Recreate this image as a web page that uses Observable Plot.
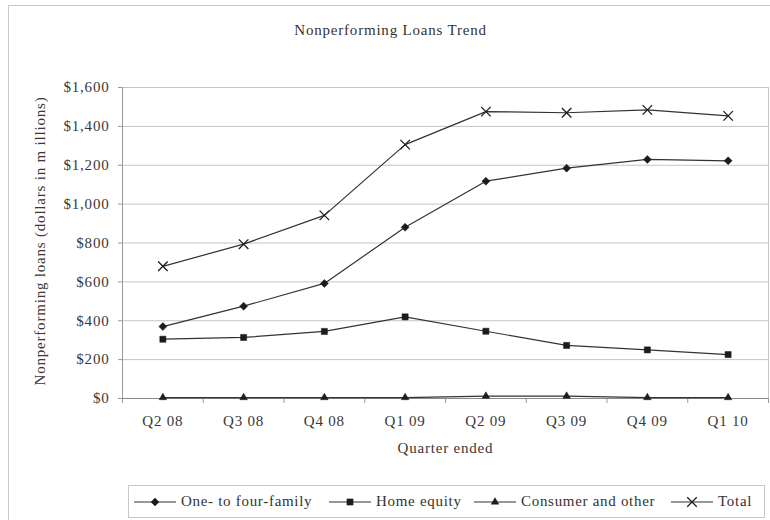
<!DOCTYPE html>
<html>
<head>
<meta charset="utf-8">
<script src="https://cdn.jsdelivr.net/npm/d3@7"></script>
<script src="https://cdn.jsdelivr.net/npm/@observablehq/plot@0.6"></script>
<style>
  body { margin: 0; background: #fff; overflow: hidden; }
  #chart { position: relative; width: 770px; height: 520px; overflow: hidden;
           font-family: "Liberation Serif", "Times New Roman", serif; color: #333; }
  #frame { position: absolute; left: 8px; top: 5px; width: 820px; height: 620px;
           border: 1px solid #c8c8c8; box-sizing: border-box; }
  #title { position: relative; height: 60px; line-height: 60px; width: 781px;
           text-align: center; font-size: 15px; letter-spacing: 0.8px; }
  #plot { position: relative; }
  #legend { position: absolute; left: 128px; top: 485px; width: 637px; height: 33px;
            border: 1px solid #c8c8c8; box-sizing: border-box; background: #fff; }
  .item { position: absolute; top: 0; height: 31px; display: flex; align-items: center;
          font-size: 15px; letter-spacing: 0.7px; white-space: nowrap; }
  .item svg { margin-right: 5px; }
</style>
</head>
<body>
<div id="chart">
  <div id="frame"></div>
  <div id="title">Nonperforming Loans Trend</div>
  <div id="plot"></div>
  <div id="legend"></div>
</div>
<script>
// Quarter labels along the x axis
const quarters = ["Q2 08", "Q3 08", "Q4 08", "Q1 09", "Q2 09", "Q3 09", "Q4 09", "Q1 10"];

// Nonperforming loans by category, dollars in millions
const oneToFourFamily = [370, 475, 592, 881, 1118, 1185, 1230, 1223];
const homeEquity      = [305, 314, 345, 420,  346,  273,  250,  226];
const consumerOther   = [  5,   5,   5,   5,   12,   12,    5,    5];
const total           = [680, 794, 942, 1306, 1476, 1470, 1485, 1454];

// Y axis tick values
const yTicks = [0, 200, 400, 600, 800, 1000, 1200, 1400, 1600];

const seriesNames = ["One- to four-family", "Home equity", "Consumer and other", "Total"];
const seriesValues = [oneToFourFamily, homeEquity, consumerOther, total];
const symbols = ["diamond2", "square2", "triangle2", "times"];
const symbolRadius = [3.6, 3.9, 3.6, 4.4];

// Long-format rows: one per series and quarter
const rows = seriesNames.flatMap((name, s) =>
  seriesValues[s].map((value, i) => ({series: name, i, quarter: quarters[i], value}))
);

const idx = quarters.map((_, i) => i);
const bounds = d3.range(quarters.length + 1).map(i => i - 0.5);
const lineColor = "#333";
const markColor = "#1c1c1c";

const chart = Plot.plot({
  width: 770,
  height: 410,
  marginLeft: 122,
  marginRight: 2,
  marginTop: 27,
  marginBottom: 72,
  style: {fontFamily: '"Liberation Serif", "Times New Roman", serif', fontSize: "15px",
          letterSpacing: "0.8px", color: "#383838", background: "transparent"},
  x: {domain: [-0.5, quarters.length - 0.5], axis: null},
  y: {domain: [0, 1600], axis: null},
  marks: [
    Plot.gridY(yTicks, {stroke: "#c4c4c4", strokeOpacity: 1}),
    Plot.ruleX([quarters.length - 0.5], {stroke: "#c4c4c4"}),
    Plot.ruleX([-0.5], {stroke: "#9a9a9a"}),
    Plot.axisY(yTicks, {tickFormat: d3.format("$,"), tickSize: 4, tickPadding: 9,
                        stroke: "#9a9a9a", label: null}),
    Plot.axisX(bounds, {tickSize: 5, tickFormat: () => "", stroke: "#9a9a9a", label: null}),
    Plot.axisX(idx, {tickSize: 0, tickPadding: 17, tickFormat: i => quarters[i], label: null}),
    Plot.ruleY([0], {stroke: "#8a8a8a"}),
    Plot.line(rows, {x: "i", y: "value", z: "series", stroke: lineColor, strokeWidth: 1.2}),
    ...seriesNames.map((name, s) =>
      Plot.dot(rows, {
        filter: d => d.series === name,
        x: "i", y: "value",
        symbol: () => symbols[s],
        r: symbolRadius[s],
        fill: s === 3 ? "none" : markColor,
        stroke: markColor,
        strokeWidth: s === 3 ? 1.3 : 0.5
      })
    ),
    Plot.text(["Nonperforming loans (dollars in m illions)"],
              {frameAnchor: "left", textAnchor: "middle", rotate: -90, dx: -82, dy: -2,
               fill: "#383838"}),
    Plot.text(["Quarter ended"], {frameAnchor: "bottom", dy: 54, fill: "#383838"})
  ]
});
document.getElementById("plot").appendChild(chart);

// Legend: line swatch with the series marker, then its name
const legendLeft = [5, 200, 345, 542];
const legend = d3.select("#legend");
seriesNames.forEach((name, s) => {
  const item = legend.append("div").attr("class", "item").style("left", legendLeft[s] + "px");
  const sw = item.append("svg").attr("width", 42).attr("height", 12);
  sw.append("line").attr("x1", 0).attr("x2", 42).attr("y1", 6).attr("y2", 6)
    .attr("stroke", lineColor).attr("stroke-width", 1.2);
  const sym = {diamond2: d3.symbolDiamond2, square2: d3.symbolSquare2,
               triangle2: d3.symbolTriangle2, times: d3.symbolTimes}[symbols[s]];
  sw.append("path")
    .attr("transform", "translate(21,6)")
    .attr("d", d3.symbol(sym, Math.PI * symbolRadius[s] * symbolRadius[s])())
    .attr("fill", s === 3 ? "none" : markColor)
    .attr("stroke", markColor)
    .attr("stroke-width", s === 3 ? 1.3 : 0.5);
  item.append("span").text(name);
});
</script>
</body>
</html>
